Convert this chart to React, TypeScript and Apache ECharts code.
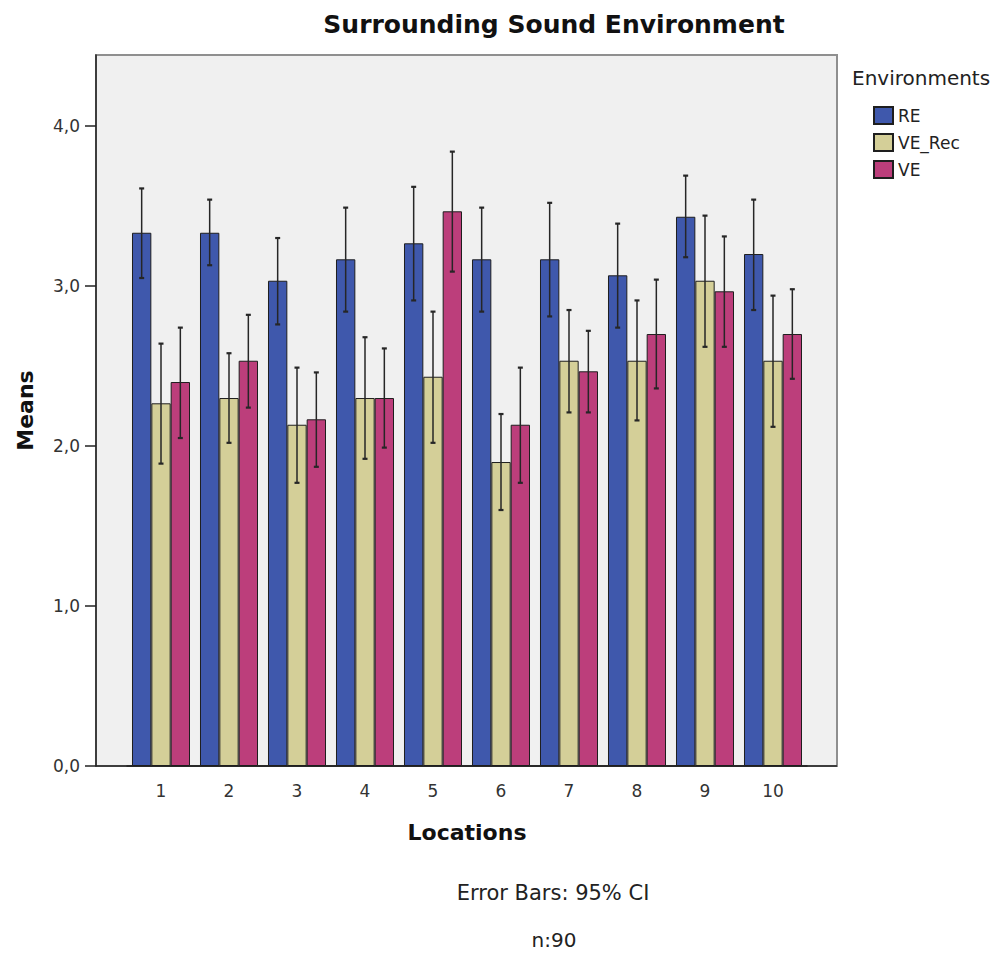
import React, { useEffect, useRef } from 'react';
import * as echarts from 'echarts';

// Locations on the x axis
const locations = ['1', '2', '3', '4', '5', '6', '7', '8', '9', '10'];
const environments = ['RE', 'VE_Rec', 'VE'];

// Mean ratings per location
const meansRE = [3.333, 3.333, 3.033, 3.167, 3.267, 3.167, 3.167, 3.067, 3.433, 3.2];
const meansVERec = [2.267, 2.3, 2.133, 2.3, 2.433, 1.9, 2.533, 2.533, 3.033, 2.533];
const meansVE = [2.4, 2.533, 2.167, 2.3, 3.467, 2.133, 2.467, 2.7, 2.967, 2.7];

// 95% confidence interval bounds
const lowRE = [3.05, 3.13, 2.76, 2.84, 2.91, 2.84, 2.81, 2.74, 3.18, 2.85];
const highRE = [3.61, 3.54, 3.3, 3.49, 3.62, 3.49, 3.52, 3.39, 3.69, 3.54];
const lowVERec = [1.89, 2.02, 1.77, 1.92, 2.02, 1.6, 2.21, 2.16, 2.62, 2.12];
const highVERec = [2.64, 2.58, 2.49, 2.68, 2.84, 2.2, 2.85, 2.91, 3.44, 2.94];
const lowVE = [2.05, 2.24, 1.87, 1.99, 3.09, 1.77, 2.21, 2.36, 2.62, 2.42];
const highVE = [2.74, 2.82, 2.46, 2.61, 3.84, 2.49, 2.72, 3.04, 3.31, 2.98];

const yTicks = [0, 1, 2, 3, 4];

const colors = ['#3f58ac', '#d4cf98', '#bc3e7b'];
const FONT = 'DejaVu Sans';
const CATEGORY_GAP = 0.147;

export default function App() {
  const ref = useRef<HTMLDivElement>(null);

  useEffect(() => {
    const chart = echarts.init(ref.current!, null, { renderer: 'svg' });
    const means = [meansRE, meansVERec, meansVE];
    const lows = [lowRE, lowVERec, lowVE];
    const highs = [highRE, highVERec, highVE];

    const barSeries = environments.map((env, k) => ({
      name: env,
      type: 'bar',
      data: means[k],
      barGap: '0%',
      barCategoryGap: `${CATEGORY_GAP * 100}%`,
      itemStyle: { color: colors[k], borderColor: '#1e1e1e', borderWidth: 1 },
      z: 2,
    }));

    const errorSeries = environments.map((env, k) => ({
      name: `${env} CI`,
      type: 'custom',
      silent: true,
      z: 3,
      encode: { x: 0, y: [1, 2] },
      data: locations.map((_, i) => [i, lows[k][i], highs[k][i]]),
      renderItem: (params: any, api: any) => {
        const idx = api.value(0);
        const top = api.coord([idx, api.value(2)]);
        const bot = api.coord([idx, api.value(1)]);
        const band = api.size([1, 0])[0];
        const w = (band * (1 - CATEGORY_GAP)) / 3;
        const x = top[0] + (k - 1) * w;
        const cap = 2.5;
        const stroke = '#262626';
        return {
          type: 'group',
          children: [
            { type: 'line', shape: { x1: x, y1: top[1], x2: x, y2: bot[1] }, style: { stroke, lineWidth: 1.5 } },
            { type: 'line', shape: { x1: x - cap, y1: top[1], x2: x + cap, y2: top[1] }, style: { stroke, lineWidth: 2.2 } },
            { type: 'line', shape: { x1: x - cap, y1: bot[1], x2: x + cap, y2: bot[1] }, style: { stroke, lineWidth: 2.2 } },
          ],
        };
      },
    }));

    const option = {
      animation: false,
      textStyle: { fontFamily: FONT },
      grid: { left: 127, right: 193, top: 55, bottom: 189, containLabel: false },
      legend: {
        data: environments,
        orient: 'vertical',
        left: 873,
        top: 106,
        padding: 0,
        itemWidth: 19,
        itemHeight: 17,
        itemGap: 8,
        icon: 'rect',
        textStyle: { fontSize: 17, fontFamily: FONT, color: '#222' },
      },
      xAxis: {
        type: 'category',
        data: locations,
        axisLine: { lineStyle: { color: '#222', width: 1.5 } },
        axisTick: { alignWithLabel: true, length: 10, lineStyle: { color: '#222', width: 1.5 } },
        axisLabel: { fontSize: 17, color: '#333', margin: 16, fontFamily: FONT },
        name: 'Locations',
        nameLocation: 'middle',
        nameGap: 55,
        nameTextStyle: { fontSize: 22, fontWeight: 'bold', color: '#111', fontFamily: FONT },
      },
      yAxis: {
        type: 'value',
        min: 0,
        max: 4.444,
        interval: 1,
        offset: 31,
        axisLine: { show: true, lineStyle: { color: '#222', width: 1.5 } },
        axisTick: { show: true, length: 11, customValues: yTicks, lineStyle: { color: '#222', width: 1.5 } },
        axisLabel: {
          customValues: yTicks,
          fontSize: 17,
          color: '#333',
          margin: 16,
          fontFamily: FONT,
          formatter: (v: number) => v.toFixed(1).replace('.', ','),
        },
        splitLine: { show: false },
        name: 'Means',
        nameLocation: 'middle',
        nameGap: 60,
        nameTextStyle: { fontSize: 22, fontWeight: 'bold', color: '#111', fontFamily: FONT },
      },
      graphic: [
        {
          type: 'rect',
          z: -1,
          shape: { x: 96, y: 55, width: 741, height: 711 },
          style: { fill: '#f0f0f0', stroke: '#8f8f8f', lineWidth: 2 },
        },
        {
          type: 'line',
          z: 1,
          shape: { x1: 96, y1: 766, x2: 837, y2: 766 },
          style: { stroke: '#222', lineWidth: 1.5 },
        },
        {
          type: 'text',
          x: 554,
          y: 24,
          style: { text: 'Surrounding Sound Environment', fontSize: 25, fontWeight: 'bold', fontFamily: FONT, fill: '#111', align: 'center', verticalAlign: 'middle' },
        },
        {
          type: 'text',
          x: 852,
          y: 78,
          style: { text: 'Environments', fontSize: 20, fontFamily: FONT, fill: '#222', align: 'left', verticalAlign: 'middle' },
        },
        {
          type: 'text',
          x: 553,
          y: 893,
          style: { text: 'Error Bars: 95% CI', fontSize: 21, fontFamily: FONT, fill: '#222', align: 'center', verticalAlign: 'middle' },
        },
        {
          type: 'text',
          x: 554,
          y: 940,
          style: { text: 'n:90', fontSize: 20, fontFamily: FONT, fill: '#222', align: 'center', verticalAlign: 'middle' },
        },
      ],
      series: [...barSeries, ...errorSeries],
    };

    chart.setOption(option as any);
    return () => chart.dispose();
  }, []);

  return <div ref={ref} style={{ position: 'absolute', left: 0, top: 0, width: 1000, height: 955 }} />;
}
